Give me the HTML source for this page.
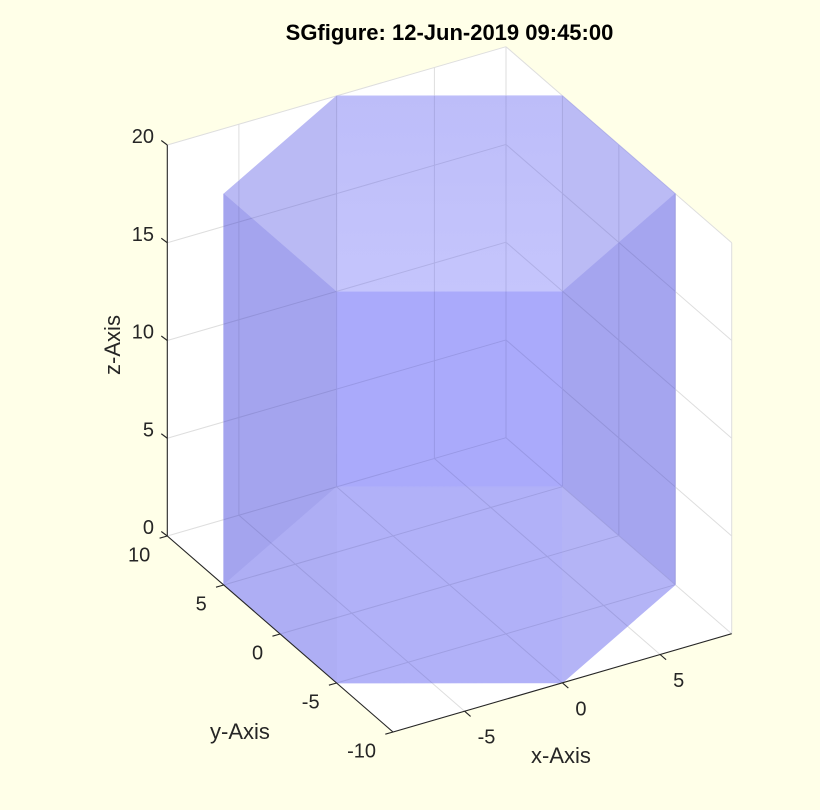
<!DOCTYPE html>
<html>
<head>
<meta charset="utf-8">
<style>
  html,body{margin:0;padding:0;background:#FFFFE8;}
  svg{display:block;}
  text{font-family:"Liberation Sans", Arial, Helvetica, sans-serif;}
</style>
</head>
<body>
<svg width="820" height="810" viewBox="0 0 820 810" xmlns="http://www.w3.org/2000/svg">
  <defs>
    <clipPath id="prism">
      <polygon points="223.7,194 336.65,95.85 562.4,95.7 675.3,193.7 675.3,584.7 562.35,682.85 336.6,683 223.7,585"/>
    </clipPath>
    <linearGradient id="topg" x1="0" y1="0" x2="0" y2="1">
      <stop offset="0" stop-color="#BDBDF9"/>
      <stop offset="1" stop-color="#C5C5FC"/>
    </linearGradient>
  </defs>
  <rect x="0" y="0" width="820" height="810" fill="#FFFFE8"/>

  <!-- white back panes / floor -->
  <polygon points="167.3,145 506,46.7 731.7,242.7 731.7,633.7 393,732 167.3,536" fill="#FFFFFF"/>

  <!-- grid lines -->
  <path fill="none" stroke="#DEDEDE" stroke-width="1" d="
    M464.6,711.2 L238.9,515.2
    M562.35,682.85 L336.65,486.85
    M660.1,654.5 L434.4,458.5
    M336.6,683 L675.3,584.7
    M280.15,634 L618.85,535.7
    M223.7,585 L562.4,486.7
    M167.3,536 L506,437.7
    M506,437.7 L731.7,633.7
    M238.9,515.2 V124.2
    M336.65,486.85 V95.85
    M434.4,458.5 V67.5
    M506,437.7 V46.7
    M167.3,438.25 L506,339.95
    M167.3,340.5 L506,242.2
    M167.3,242.75 L506,144.45
    M167.3,145 L506,46.7
    M562.4,486.7 V95.7
    M618.85,535.7 V144.7
    M675.3,584.7 V193.7
    M731.7,633.7 V242.7
    M506,339.95 L731.7,535.95
    M506,242.2 L731.7,438.2
    M506,144.45 L731.7,340.45
    M506,46.7 L731.7,242.7"/>

  <!-- prism regions -->
  <g stroke-width="0.7" stroke-linejoin="round">
    <polygon points="336.65,95.85 562.4,95.7 562.35,291.85 336.6,292" fill="url(#topg)" stroke="#C1C1FA"/>
    <polygon points="223.7,194 336.65,95.85 336.6,292" fill="#BABAF4" stroke="#BABAF4"/>
    <polygon points="562.4,95.7 675.3,193.7 562.35,291.85" fill="#BBBBF5" stroke="#BBBBF5"/>
    <polygon points="223.7,194 336.6,292 336.65,486.85 223.7,585" fill="#A4A4EE" stroke="#A4A4EE"/>
    <polygon points="562.35,291.85 675.3,193.7 675.3,584.7 562.4,486.7" fill="#A5A5EF" stroke="#A5A5EF"/>
    <polygon points="336.6,292 562.35,291.85 562.4,486.7 336.65,486.85" fill="#AAAAFB" stroke="#AAAAFB"/>
    <polygon points="336.65,486.85 562.4,486.7 562.35,682.85 336.6,683" fill="#B1B1F8" stroke="#B1B1F8"/>
    <polygon points="223.7,585 336.65,486.85 336.6,683" fill="#AEAEF4" stroke="#AEAEF4"/>
    <polygon points="562.4,486.7 675.3,584.7 562.35,682.85" fill="#B4B4F6" stroke="#B4B4F6"/>
  </g>

  <!-- grid seen through the prism -->
  <g clip-path="url(#prism)" fill="none" stroke="#000030" stroke-opacity="0.1" stroke-width="1">
    <path d="
    M464.6,711.2 L238.9,515.2
    M562.35,682.85 L336.65,486.85
    M660.1,654.5 L434.4,458.5
    M336.6,683 L675.3,584.7
    M280.15,634 L618.85,535.7
    M223.7,585 L562.4,486.7
    M167.3,536 L506,437.7
    M506,437.7 L731.7,633.7
    M238.9,515.2 V124.2
    M336.65,486.85 V95.85
    M434.4,458.5 V67.5
    M506,437.7 V46.7
    M167.3,438.25 L506,339.95
    M167.3,340.5 L506,242.2
    M167.3,242.75 L506,144.45
    M167.3,145 L506,46.7
    M562.4,486.7 V95.7
    M618.85,535.7 V144.7
    M675.3,584.7 V193.7
    M731.7,633.7 V242.7
    M506,339.95 L731.7,535.95
    M506,242.2 L731.7,438.2
    M506,144.45 L731.7,340.45
    M506,46.7 L731.7,242.7"/>
  </g>

  <!-- axes lines -->
  <path fill="none" stroke="#262626" stroke-width="1.1" d="M167.3,145 V536 L393,732 L731.7,633.7"/>
  <!-- ticks -->
  <path fill="none" stroke="#262626" stroke-width="1.1" d="
    M167.3,536 l-6,-4.5
    M167.3,438.25 l-6,-4.5
    M167.3,340.5 l-6,-4.5
    M167.3,242.75 l-6,-4.5
    M167.3,145 l-6,-4.5
    M167.3,536 l-7.7,2.2
    M223.7,585 l-7.7,2.2
    M280.15,634 l-7.7,2.2
    M336.6,683 l-7.7,2.2
    M393,732 l-7.7,2.2
    M464.6,711.2 l6,5.2
    M562.35,682.85 l6,5.2
    M660.1,654.5 l6,5.2"/>

  <!-- z tick labels -->
  <g font-size="20" fill="#262626" text-anchor="end">
    <text x="154" y="534.2">0</text>
    <text x="154" y="436.45">5</text>
    <text x="154" y="338.7">10</text>
    <text x="154" y="240.95">15</text>
    <text x="154" y="143.2">20</text>
  </g>
  <!-- y tick labels -->
  <g font-size="20" fill="#262626" text-anchor="end">
    <text x="150.3" y="561.5">10</text>
    <text x="206.7" y="610.5">5</text>
    <text x="263.15" y="659.5">0</text>
    <text x="319.6" y="708.5">-5</text>
    <text x="376" y="757.5">-10</text>
  </g>
  <!-- x tick labels -->
  <g font-size="20" fill="#262626" text-anchor="start">
    <text x="477.6" y="743.7">-5</text>
    <text x="575.35" y="715.35">0</text>
    <text x="673.1" y="687">5</text>
  </g>

  <!-- axis labels -->
  <g font-size="22" fill="#262626" text-anchor="middle">
    <text x="561" y="763">x-Axis</text>
    <text x="240" y="739">y-Axis</text>
    <text transform="translate(120,345) rotate(-90)" x="0" y="0">z-Axis</text>
  </g>

  <!-- title -->
  <text x="449.5" y="40" font-size="22" font-weight="bold" fill="#000000" text-anchor="middle">SGfigure: 12-Jun-2019 09:45:00</text>
</svg>
</body>
</html>
